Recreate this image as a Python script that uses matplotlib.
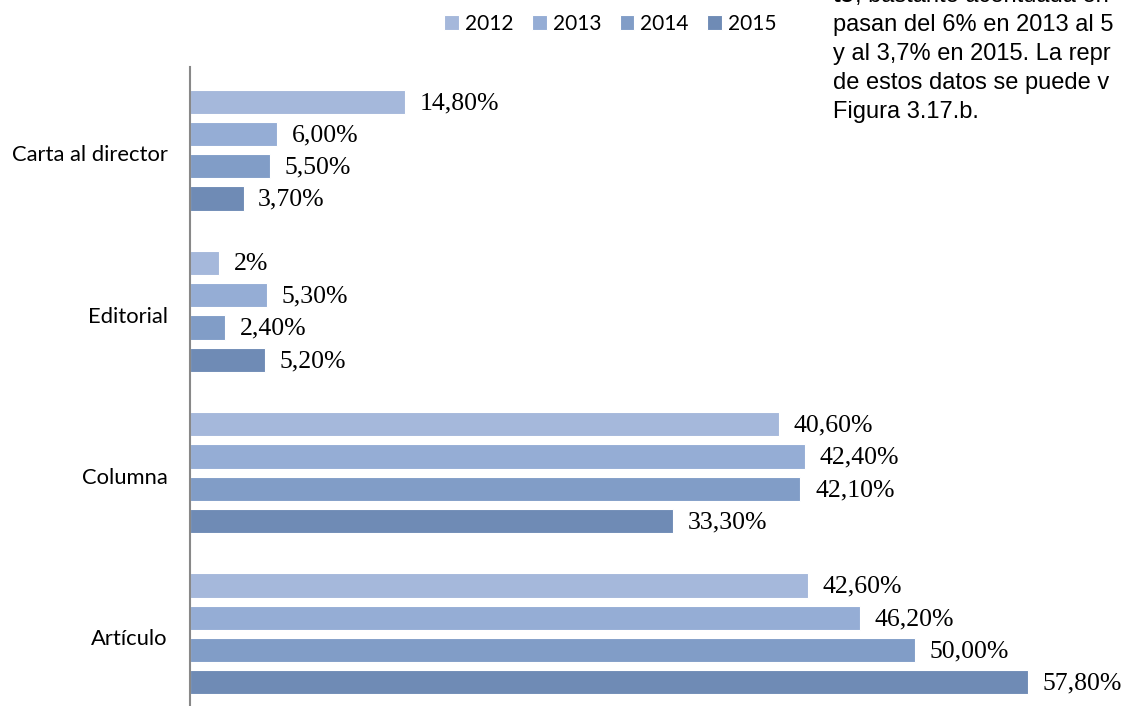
import matplotlib
matplotlib.use("Agg")
import matplotlib.pyplot as plt

categories = ["Carta al director", "Editorial", "Columna", "Artículo"]
years = ["2012", "2013", "2014", "2015"]
values = {
    "2012": [14.8, 2.0, 40.6, 42.6],
    "2013": [6.0, 5.3, 42.4, 46.2],
    "2014": [5.5, 2.4, 42.1, 50.0],
    "2015": [3.7, 5.2, 33.3, 57.8],
}
labels = {
    "2012": ["14,80%", "2%", "40,60%", "42,60%"],
    "2013": ["6,00%", "5,30%", "42,40%", "46,20%"],
    "2014": ["5,50%", "2,40%", "42,10%", "50,00%"],
    "2015": ["3,70%", "5,20%", "33,30%", "57,80%"],
}
colors = ["#A5B8DB", "#95ADD5", "#819DC7", "#6F8BB5"]

paragraph = [
    ("to", ", bastante acentuada en"),
    ("", "pasan del 6% en 2013 al 5"),
    ("", "y al 3,7% en 2015. La repr"),
    ("", "de estos datos se puede v"),
    ("", "Figura 3.17.b."),
]

W, H = 1124, 706
fig = plt.figure(figsize=(W / 100, H / 100), dpi=100)
ax = fig.add_axes([190 / W, 0, 870 / W, (706 - 67) / H])

slot = 5
for j, yr in enumerate(years):
    ys = [c * slot + j for c in range(len(categories))]
    ax.barh(ys, values[yr], height=0.75, color=colors[j], edgecolor="white",
            linewidth=0.8, label=yr)
    for y, v, lab in zip(ys, values[yr], labels[yr]):
        ax.annotate(lab, (v, y), xytext=(10.5, -1), textcoords="offset points",
                    va="center", ha="left", fontsize=18.5,
                    family="Liberation Serif", annotation_clip=False)

ax.set_xlim(0, 60)
ax.set_ylim(18.74, -1.08)
ax.set_yticks([c * slot + 1.6 for c in range(len(categories))])
ax.set_yticklabels(categories, fontsize=15.8, family="Lato")
ax.tick_params(axis="y", length=0, pad=16)
ax.set_xticks([])
for s in ["top", "right", "bottom"]:
    ax.spines[s].set_visible(False)
ax.spines["left"].set_color("#888888")
ax.spines["left"].set_linewidth(1.5)

leg = fig.legend(loc="center left", bbox_to_anchor=(436 / W, 1 - 24 / H), ncol=4,
                 frameon=False, prop={"family": "Lato", "size": 15},
                 handlelength=0.7, handleheight=0.7, handletextpad=0.3,
                 columnspacing=0.88, borderaxespad=0)

ys_txt = [-4, 25, 54, 83, 112]
fs = 17
for (b, rest), yy in zip(paragraph, ys_txt):
    if b:
        t = fig.text(833 / W, 1 - yy / H, b, fontsize=fs, family="Liberation Sans",
                     weight="bold", va="center", ha="left")
        fig.canvas.draw()
        bb = t.get_window_extent()
        fig.text(bb.x1 / W, 1 - yy / H, rest, fontsize=fs, family="Liberation Sans",
                 va="center", ha="left")
    else:
        fig.text(833 / W, 1 - yy / H, rest, fontsize=fs, family="Liberation Sans",
                 va="center", ha="left")

fig.savefig("out.png", dpi=100)
